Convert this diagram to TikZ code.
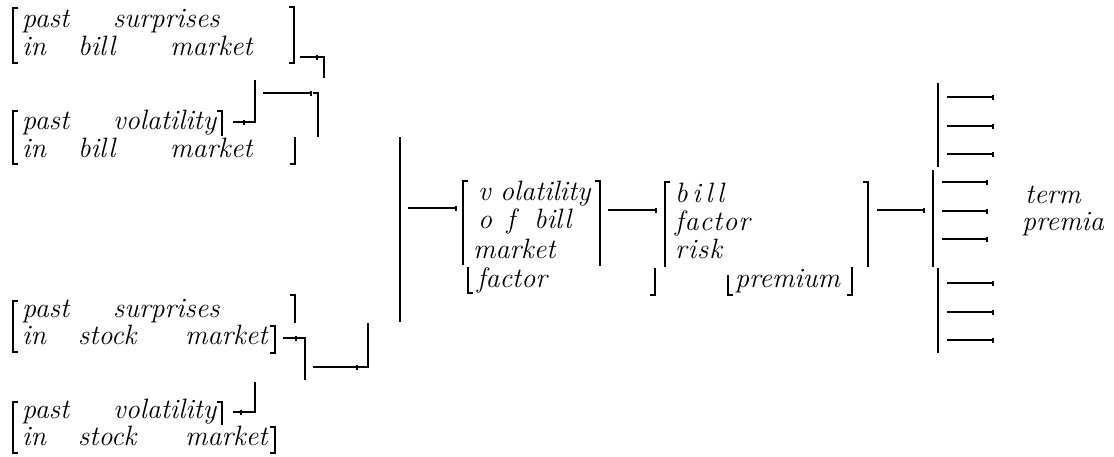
\documentclass[tikz,border=0pt]{standalone}
\usepackage{fontspec}
\usetikzlibrary{arrows.meta}
\tikzset{
  wd/.style={inner sep=0pt, anchor=base west, font=\fontsize{28}{30}\selectfont\itshape\addfontfeatures{FakeBold=1.5}},
  ln/.style={line width=1.7pt, line cap=butt},
  tk/.style={ln, -{Bar[width=5pt,line width=1.7pt]}},
}
% bracket helpers: x, top, bottom
\newcommand\LB[3]{\draw[ln] ({#1+5},#2) -- (#1,#2) -- (#1,#3) -- ({#1+5},#3);}
\newcommand\RB[3]{\draw[ln] ({#1-5},#2) -- (#1,#2) -- (#1,#3) -- ({#1-5},#3);}
\newcommand\LBt[3]{\draw[ln] ({#1+5},#2) -- (#1,#2) -- (#1,#3);}
\newcommand\LBb[3]{\draw[ln] (#1,#2) -- (#1,#3) -- ({#1+5},#3);}
\newcommand\RBt[3]{\draw[ln] ({#1-5},#2) -- (#1,#2) -- (#1,#3);}
\newcommand\RBb[3]{\draw[ln] (#1,#2) -- (#1,#3) -- ({#1-5},#3);}
\begin{document}
\begin{tikzpicture}[x=1pt,y=-1pt]
\useasboundingbox (0,0) rectangle (1114,456);
% ---- block 1
\node[wd] (a1) at (22,27) {past};
\node[wd] (a2) at (113,27) {surprises};
\node[wd] (a3) at (22,55) {in};
\node[wd] (a4) at (78,55) {bill};
\node[wd] (a5) at (170,55) {market};
\LB{13}{8}{63}
\RB{294}{7}{63}
\draw[tk] (300,57) -- (318,57);
\draw[ln] (318,57) -- (324,57) -- (324,78);
% ---- block 2
\node[wd] (b1) at (22,129) {past};
\node[wd] (b2) at (113,129) {volatility};
\node[wd] (b3) at (22,157) {in};
\node[wd] (b4) at (78,157) {bill};
\node[wd] (b5) at (170,157) {market};
\LB{13}{111}{164}
\RBt{222}{111}{136}
\RBb{295}{137}{164}
\draw[tk] (233,122) -- (245,122);
\draw[ln] (245,122) -- (255,122) -- (255,80);
\draw[tk] (263,93) -- (312,93);
\draw[ln] (313,93) -- (318,93) -- (318,137);
% ---- block 3
\node[wd] (c1) at (22,317) {past};
\node[wd] (c2) at (113,317) {surprises};
\node[wd] (c3) at (22,344) {in};
\node[wd] (c4) at (78,344) {stock};
\node[wd] (c5) at (185,344) {market};
\LB{13}{301}{352}
\RBt{295}{295}{323}
\RB{275}{326}{353}
\draw[tk] (283,338) -- (297,338);
\draw[ln] (297,338) -- (305,338) -- (305,380);
\draw[tk] (313,367) -- (358,367);
\draw[ln] (358,367) -- (368,367) -- (368,323);
% ---- block 4
\node[wd] (d1) at (22,418) {past};
\node[wd] (d2) at (113,418) {volatility};
\node[wd] (d3) at (22,445) {in};
\node[wd] (d4) at (78,445) {stock};
\node[wd] (d5) at (185,445) {market};
\LB{13}{402}{453}
\RBt{222}{402}{425}
\RB{275}{427}{453}
\draw[tk] (233,412) -- (242,412);
\draw[ln] (242,412) -- (255,412) -- (255,382);
% ---- long vertical
\draw[ln] (400,137) -- (400,322);
\draw[tk] (408,208) -- (457,208);
% ---- volatility block
\node[wd] (v1) at (478,200) {v\,\,olatility};
\node[wd] (v2) at (478,228) {o\, f\, \,bill};
\node[wd] (v3) at (473,258) {market};
\node[wd] (v4) at (477,287) {factor};
\LBt{463}{181}{265}
\LBb{468}{267}{293}
\RBt{600}{181}{266}
\RBb{655}{268}{295}
\draw[tk] (608,210) -- (657,210);
% ---- bill block
\node[wd] (w1) at (675,202) {b\,i\,l\,l};
\node[wd] (w2) at (675,230) {f\kern1pt a\kern1pt c\kern1pt t\kern1pt o\kern1pt r};
\node[wd] (w3) at (675,258) {r\kern1pt i\kern1pt s\kern1pt k};
\node[wd] (w4) at (735,287) {premium};
\LBt{665}{182}{267}
\LBb{728}{275}{295}
\RBb{852}{267}{295}
\RBt{868}{182}{267}
\draw[tk] (877,210) -- (925,210);
% ---- right fan
\draw[ln] (938,83) -- (938,167);
\draw[ln] (933,170) -- (933,267);
\draw[ln] (938,268) -- (938,353);
\foreach \yy in {97,126,154,283,312,340} \draw[tk] (947,\yy) -- (994,\yy);
\foreach \yy in {182,211,239} \draw[tk] (942,\yy) -- (988,\yy);
\node[wd] (t1) at (1025,203) {term};
\node[wd] (t2) at (1022,230) {premia};
\end{tikzpicture}
\end{document}
